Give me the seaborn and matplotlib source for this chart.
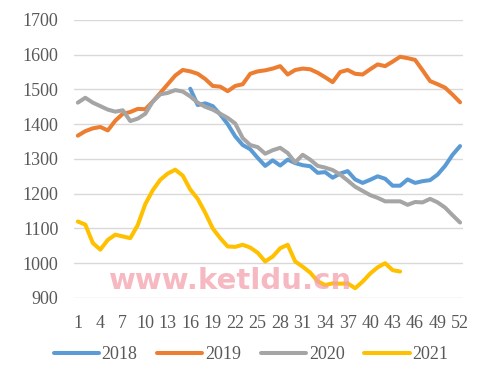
import matplotlib
matplotlib.use("Agg")
import matplotlib.pyplot as plt
import numpy as np
import pandas as pd
import seaborn as sns

# Semanas y valores
weeks_2018 = list(range(16, 53))
vals_2018 = [1502, 1455, 1460, 1452, 1428, 1400, 1365, 1340, 1328, 1303,
             1280, 1296, 1281, 1298, 1288, 1282, 1279, 1260, 1262, 1246,
             1258, 1265, 1241, 1231, 1240, 1250, 1243, 1223, 1223, 1241,
             1231, 1236, 1239, 1255, 1280, 1312, 1337]

weeks_2019 = list(range(1, 53))
vals_2019 = [1367, 1380, 1388, 1392, 1382, 1410, 1430, 1435, 1444, 1443,
             1465, 1490, 1515, 1540, 1556, 1552, 1545, 1530, 1510, 1508,
             1495, 1510, 1515, 1545, 1552, 1555, 1560, 1567, 1543, 1556,
             1560, 1558, 1548, 1535, 1521, 1550, 1556, 1545, 1543, 1558,
             1572, 1567, 1580, 1594, 1590, 1585, 1555, 1524, 1515, 1505,
             1485, 1463]

weeks_2020 = list(range(1, 53))
vals_2020 = [1462, 1476, 1462, 1452, 1442, 1436, 1440, 1409, 1416, 1430,
             1465, 1486, 1490, 1498, 1494, 1480, 1462, 1450, 1442, 1430,
             1418, 1402, 1360, 1340, 1334, 1315, 1325, 1332, 1317, 1290,
             1312, 1298, 1280, 1275, 1268, 1255, 1238, 1220, 1208, 1196,
             1188, 1178, 1178, 1178, 1168, 1176, 1175, 1185, 1175, 1160,
             1138, 1117]

weeks_2021 = list(range(1, 45))
vals_2021 = [1120, 1111, 1058, 1039, 1067, 1082, 1077, 1072, 1110, 1170,
             1210, 1240, 1258, 1269, 1252, 1212, 1185, 1145, 1100, 1072,
             1048, 1047, 1053, 1045, 1030, 1005, 1019, 1043, 1053, 1005,
             990, 973, 948, 937, 942, 941, 942, 928, 947, 970,
             988, 1000, 980, 976]

years = ["2018", "2019", "2020", "2021"]
colors = ["#5B9BD5", "#ED7D31", "#A5A5A5", "#FFC000"]
x_ticks = list(range(1, 53, 3))
y_ticks = list(range(900, 1701, 100))

# Tabla larga para seaborn
frames = []
for yr, w, v in zip(years, [weeks_2018, weeks_2019, weeks_2020, weeks_2021],
                    [vals_2018, vals_2019, vals_2020, vals_2021]):
    frames.append(pd.DataFrame({"week": w, "value": v, "year": yr}))
df = pd.concat(frames, ignore_index=True)

sns.set_style("white")
plt.rcParams["font.family"] = ["Liberation Serif", "DejaVu Serif"]

fig = plt.figure(figsize=(4.99, 3.81), dpi=100)
ax = fig.add_axes([0.148, 0.218, 0.78, 0.7297])

sns.lineplot(data=df, x="week", y="value", hue="year", hue_order=years,
             palette=colors, linewidth=2.9, ax=ax, estimator=None,
             sort=True)

ax.set_ylim(900, 1700)
ax.set_xlim(0.47, 52.4)
ax.set_yticks(y_ticks)
ax.set_xticks(x_ticks)
ax.set_xticklabels([str(t) for t in x_ticks])
ax.yaxis.grid(True, color="#D9D9D9", linewidth=1.0)
ax.set_axisbelow(True)
for s in ax.spines.values():
    s.set_visible(False)
ax.tick_params(axis="both", length=0, labelsize=13, colors="#595959")
ax.tick_params(axis="x", pad=12)
ax.tick_params(axis="y", pad=11)
ax.set_xlabel("")
ax.set_ylabel("")

ax.legend(loc="center", bbox_to_anchor=(0.455, -0.205), ncol=4, frameon=False,
          fontsize=13, handlelength=2.5, handletextpad=0.15,
          columnspacing=1.1, labelcolor="#595959")

# Marca de agua
fig.text(0.462, 0.262, "www.ketldu.cn", fontsize=21, fontweight="bold",
         family="DejaVu Sans", color="#F4A0AC", alpha=0.75,
         ha="center", va="center", zorder=10)

fig.savefig("out.png", dpi=100)
